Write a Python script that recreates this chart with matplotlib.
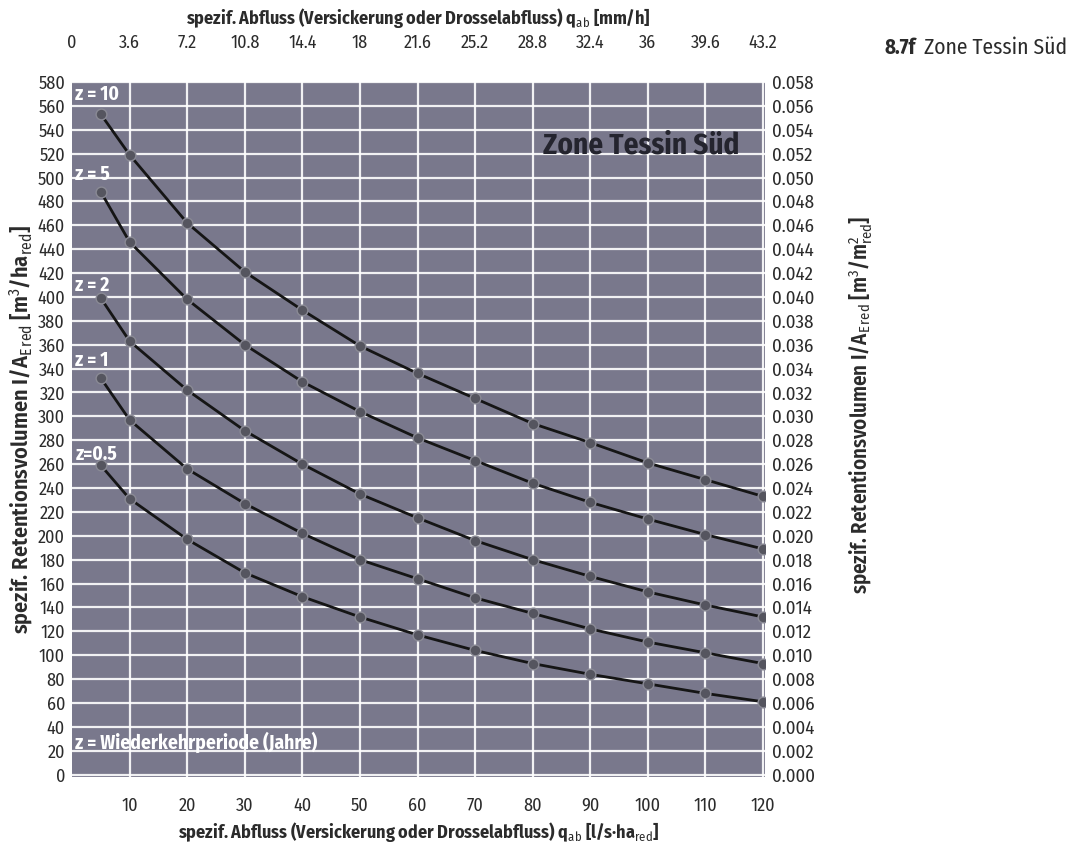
import matplotlib
matplotlib.use("Agg")
import matplotlib.pyplot as plt
from matplotlib.ticker import FixedLocator, FuncFormatter
from matplotlib import font_manager as fm

_avail = {f.name for f in fm.fontManager.ttflist}
_cands = ['Fira Sans Condensed', 'Roboto Condensed', 'Open Sans Condensed',
          'PT Sans Narrow', 'Liberation Sans Narrow', 'Asap Condensed',
          'Encode Sans Condensed', 'IBM Plex Sans Condensed']
_fam = [c for c in _cands if c in _avail][:1] + ['DejaVu Sans']
plt.rcParams['font.family'] = _fam
plt.rcParams['mathtext.fontset'] = 'custom'
plt.rcParams['mathtext.rm'] = _fam[0]
plt.rcParams['mathtext.it'] = _fam[0] + ':italic'
plt.rcParams['mathtext.bf'] = _fam[0] + ':bold'

# ---- data ----
q_ls = [5, 10, 20, 30, 40, 50, 60, 70, 80, 90, 100, 110, 120]
z10 = [553, 519, 462, 421, 389, 359, 336, 315, 294, 278, 261, 247, 233]
z5 = [488, 446, 398, 360, 329, 304, 282, 263, 244, 228, 214, 201, 189]
z2 = [399, 363, 322, 288, 260, 235, 215, 196, 180, 166, 153, 142, 132]
z1 = [332, 297, 256, 227, 202, 180, 164, 148, 135, 122, 111, 102, 93]
z05 = [259, 231, 197, 169, 149, 132, 117, 104, 93, 84, 76, 68, 61]
series = [z10, z5, z2, z1, z05]
series_labels = ["z = 10", "z = 5", "z = 2", "z = 1", "z=0.5"]
label_y = [570, 503, 410, 347, 268]

bottom_ticks = [10, 20, 30, 40, 50, 60, 70, 80, 90, 100, 110, 120]
top_tick_pos = [0, 10, 20, 30, 40, 50, 60, 70, 80, 90, 100, 110, 120]
top_tick_labels = ["0", "3.6", "7.2", "10.8", "14.4", "18", "21.6", "25.2",
                   "28.8", "32.4", "36", "39.6", "43.2"]
left_ticks = list(range(0, 581, 20))

bg = '#79788c'
txt = '#2b2b2b'

fig = plt.figure(figsize=(10.72, 8.5), dpi=100)
ax = fig.add_axes([0.0672, 0.0859, 0.6464, 0.8176])
ax.set_facecolor(bg)
ax.set_xlim(0, 120.35)
ax.set_ylim(-2, 580)

ax.set_xticks(bottom_ticks)
ax.set_yticks(left_ticks)
ax.tick_params(length=0, labelsize=13, colors=txt)
ax.tick_params(axis='x', pad=14)
ax.tick_params(axis='y', pad=5)
ax.grid(True, color='white', linewidth=1.6, alpha=0.9)
ax.set_axisbelow(True)
for s in ax.spines.values():
    s.set_visible(False)

for vals in series:
    ax.plot(q_ls, vals, color='#151515', linewidth=2.0, zorder=3)
    ax.scatter(q_ls, vals, s=60, color='#55555f', edgecolor='#8a8a95',
               linewidth=1.0, zorder=4)

for lab, yy in zip(series_labels, label_y):
    ax.text(0.6, yy, lab, color='white', fontsize=14, fontweight='bold',
            va='center', ha='left', zorder=5)
ax.text(0.6, 27, "z = Wiederkehrperiode (Jahre)", color='white', fontsize=14,
        fontweight='bold', va='center', ha='left', zorder=5)
ax.text(98.8, 527, "Zone Tessin Süd", color='#24242e', fontsize=21,
        fontweight='bold', va='center', ha='center', zorder=5)

ax.set_xlabel(r"spezif. Abfluss (Versickerung oder Drosselabfluss) q$_{\mathrm{ab}}$ [l/s·ha$_{\mathrm{red}}$]",
              fontsize=13, fontweight='bold', color=txt, labelpad=4)
ax.set_ylabel(r"spezif. Retentionsvolumen I/A$_{\mathrm{E\,red}}$ [m$^{3}$/ha$_{\mathrm{red}}$]",
              fontsize=16, fontweight='semibold', color=txt, labelpad=2)

# top axis
axt = ax.twiny()
axt.set_xlim(ax.get_xlim())
axt.xaxis.set_major_locator(FixedLocator(top_tick_pos))
axt.set_xticklabels(top_tick_labels)
axt.tick_params(length=0, labelsize=13, colors=txt, pad=22)
axt.set_xlabel(r"spezif. Abfluss (Versickerung oder Drosselabfluss) q$_{\mathrm{ab}}$ [mm/h]",
               fontsize=13, fontweight='bold', color=txt, labelpad=7)
for s in axt.spines.values():
    s.set_visible(False)

# right axis
axr = ax.twinx()
axr.set_ylim(ax.get_ylim())
axr.yaxis.set_major_locator(FixedLocator(left_ticks))
axr.yaxis.set_major_formatter(FuncFormatter(lambda v, p: f"{v/10000:.3f}"))
axr.tick_params(length=0, labelsize=13.5, colors=txt, pad=5)
axr.set_ylabel(r"spezif. Retentionsvolumen I/A$_{\mathrm{E\,red}}$ [m$^{3}$/m$^{2}_{\mathrm{red}}$]",
               fontsize=15, fontweight='semibold', color=txt, labelpad=18)
axr.yaxis.set_label_coords(1.12, 0.535)
for s in axr.spines.values():
    s.set_visible(False)

fig.text(0.825, 0.944, "8.7f", fontsize=15, fontweight='bold', color=txt, va='center')
fig.text(0.862, 0.944, "Zone Tessin Süd", fontsize=15.5, color=txt, va='center')

fig.savefig("out.png", dpi=100, facecolor='white')
